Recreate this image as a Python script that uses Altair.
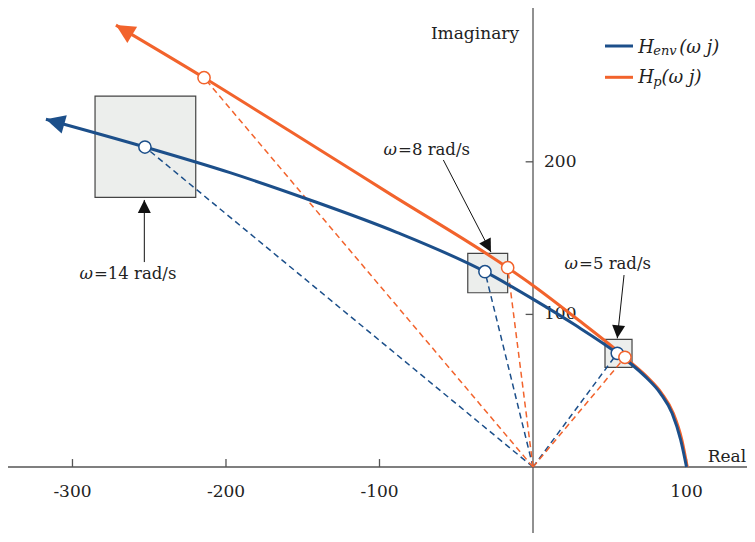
import altair as alt
import pandas as pd

# ---- data ----
env_re = [100.0, 96.2, 90.6, 83.0, 73.2, 63.3, 54.9, 27.5, 0.0, -31.3, -88.8, -145.3, -197.4, -252.8, -317.3]
env_im = [0.0, 17.7, 35.2, 48.3, 59.2, 68.0, 74.5, 93.0, 110.0, 128.0, 153.8, 175.0, 192.9, 209.7, 227.9]
p_re = [100.5, 97.0, 91.4, 83.8, 74.1, 64.3, 59.9, 30.0, 0.0, -16.5, -93.2, -159.0, -214.3, -271.7]
p_im = [0.0, 17.7, 35.2, 48.3, 59.2, 68.0, 71.9, 96.0, 119.0, 130.6, 179.0, 220.5, 255.1, 289.6]

omegas = [5, 8, 14]
env_pt_re = [54.9, -31.3, -252.8]
env_pt_im = [74.5, 128.0, 209.7]
p_pt_re = [59.9, -16.5, -214.3]
p_pt_im = [71.9, 130.6, 255.1]

box_re1 = [46.9, -42.5, -285.3]
box_re2 = [64.5, -16.5, -219.7]
box_im1 = [65.3, 114.2, 176.7]
box_im2 = [83.7, 140.0, 243.1]

ann_sym = ["ω", "ω", "ω"]
ann_text = ["=5 rad/s", "=8 rad/s", "=14 rad/s"]
ann_tip_re = [54.9, -27.4, -253.2]
ann_tip_im = [84.3, 140.9, 175.0]
ann_tail_re = [59.3, -58.4, -253.2]
ann_tail_im = [125.8, 201.2, 134.3]
ann_lab_re = [30.0, -87.9, -286.0]
ann_lab_im = [129.6, 204.5, 123.0]

x_ticks = [-300, -200, -100, 100]
y_ticks = [100, 200]

BLUE = "#1c4f8a"
ORANGE = "#f2632c"
AXC = "#555555"
FONT = "DejaVu Serif"
W, H = 739, 525

xs = alt.Scale(domain=[-342.0, 139.4], nice=False, zero=False)
ys = alt.Scale(domain=[(467 - 8 - H) / 1.526, 300.8], nice=False, zero=False)

env_df = pd.DataFrame({"re": env_re, "im": env_im})
p_df = pd.DataFrame({"re": p_re, "im": p_im})
env_pts = pd.DataFrame({"w": omegas, "re": env_pt_re, "im": env_pt_im, "z": 0.0})
p_pts = pd.DataFrame({"w": omegas, "re": p_pt_re, "im": p_pt_im, "z": 0.0})
boxes = pd.DataFrame({"x1": box_re1, "x2": box_re2, "y1": box_im1, "y2": box_im2})
ann = pd.DataFrame({"s": ann_sym, "t": ann_text, "tx": ann_tip_re, "ty": ann_tip_im,
                    "sx": ann_tail_re, "sy": ann_tail_im,
                    "lx": ann_lab_re, "ly": ann_lab_im,
                    "ang": [276, 242.6, 90]})
xt = pd.DataFrame({"v": x_ticks, "lab": [str(v) for v in x_ticks], "z": 0.0, "z2": 5.2})
yt = pd.DataFrame({"v": y_ticks, "lab": [str(v) for v in y_ticks], "z": 0.0, "z2": -4.8})
one = pd.DataFrame({"z": [0.0], "xr": [138.8], "yi": [280.3]})


def X(f):
    return alt.X(f, type="quantitative", scale=xs, axis=None)


def Y(f):
    return alt.Y(f, type="quantitative", scale=ys, axis=None)


HEAD = "M0,0 L1,-0.5 L1,0.5 Z"

# axes
xaxis = alt.Chart(one).mark_rule(color=AXC, strokeWidth=1.3).encode(
    x=alt.value(0), x2=alt.value(W), y=Y("z"))
yaxis = alt.Chart(one).mark_rule(color=AXC, strokeWidth=1.3).encode(
    x=X("z"), y=alt.value(0), y2=alt.value(H))
xtick = alt.Chart(xt).mark_rule(color=AXC, strokeWidth=1.3).encode(
    x=X("v"), y=Y("z"), y2="z2")
ytick = alt.Chart(yt).mark_rule(color=AXC, strokeWidth=1.3).encode(
    y=Y("v"), x=X("z"), x2="z2")
xlab = alt.Chart(xt).mark_text(font=FONT, fontSize=17, color="#222", baseline="middle", dy=25).encode(
    x=X("v"), y=Y("z"), text="lab:N")
ylab = alt.Chart(yt).mark_text(font=FONT, fontSize=17, color="#222", baseline="middle", align="left", dx=11).encode(
    y=Y("v"), x=X("z"), text="lab:N")
real_t = alt.Chart(one).mark_text(font=FONT, fontSize=17, color="#222", align="right", baseline="alphabetic", dy=-5, text="Real").encode(
    x=X("xr"), y=Y("z"))
imag_t = alt.Chart(one).mark_text(font=FONT, fontSize=17, color="#222", align="right", baseline="alphabetic", dx=-14, text="Imaginary").encode(
    x=X("z"), y=Y("yi"))

# boxes
box = alt.Chart(boxes).mark_rect(fill="#eceeec", stroke="#444444", strokeWidth=1.2).encode(
    x=X("x1"), x2="x2", y=Y("y1"), y2="y2")

# dashed radii
dash_env = alt.Chart(env_pts).mark_rule(color=BLUE, strokeWidth=1.5, strokeDash=[6, 4]).encode(
    x=X("z"), y=Y("z"), x2="re", y2="im")
dash_p = alt.Chart(p_pts).mark_rule(color=ORANGE, strokeWidth=1.5, strokeDash=[6, 4]).encode(
    x=X("z"), y=Y("z"), x2="re", y2="im")

# curves (sorted by x, monotone)
line_env = alt.Chart(env_df).mark_line(color=BLUE, strokeWidth=3, interpolate="monotone").encode(
    x=X("re"), y=Y("im"))
line_p = alt.Chart(p_df).mark_line(color=ORANGE, strokeWidth=3, interpolate="monotone").encode(
    x=X("re"), y=Y("im"))
head_env = alt.Chart(env_df.tail(1)).mark_point(shape=HEAD, size=1444, filled=True, color=BLUE, opacity=1, angle=15.7).encode(
    x=X("re"), y=Y("im"))
head_p = alt.Chart(p_df.tail(1)).mark_point(shape=HEAD, size=1444, filled=True, color=ORANGE, opacity=1, angle=30.9).encode(
    x=X("re"), y=Y("im"))

# circles
circ_env = alt.Chart(env_pts).mark_point(shape="circle", size=150, filled=True, fill="white", stroke=BLUE, strokeWidth=1.5, opacity=1).encode(
    x=X("re"), y=Y("im"))
circ_p = alt.Chart(p_pts).mark_point(shape="circle", size=150, filled=True, fill="white", stroke=ORANGE, strokeWidth=1.5, opacity=1).encode(
    x=X("re"), y=Y("im"))

# annotations
ann_line = alt.Chart(ann).mark_rule(color="#111", strokeWidth=1).encode(
    x=X("sx"), y=Y("sy"), x2="tx", y2="ty")
ann_head = alt.Chart(ann).mark_point(shape=HEAD, size=676, filled=True, color="#111", opacity=1).encode(
    x=X("tx"), y=Y("ty"), angle=alt.Angle("ang:Q", scale=None))
ann_sym_t = alt.Chart(ann).mark_text(font=FONT, fontSize=16.5, fontStyle="italic", color="#222", baseline="alphabetic", align="right", dx=-1).encode(
    x=X("lx"), y=Y("ly"), text="s:N")
ann_lab = alt.Chart(ann).mark_text(font=FONT, fontSize=16.5, color="#222", baseline="alphabetic", align="left").encode(
    x=X("lx"), y=Y("ly"), text="t:N")

# legend (manual)
legend_layers = []
for yy, cc in [(38, BLUE), (69.3, ORANGE)]:
    legend_layers.append(alt.Chart(one).mark_rule(strokeWidth=3, color=cc).encode(
        x=alt.value(597), x2=alt.value(625), y=alt.value(yy)))
for t, xx, yy, fs in [("H", 630.3, 44.7, 18), ("env", 645.3, 47.0, 13), ("(ω j)", 671.3, 44.7, 18),
                      ("H", 630.3, 75.3, 18), ("p", 645.3, 77.8, 13), ("(ω j)", 653.5, 75.3, 18)]:
    legend_layers.append(alt.Chart(one).mark_text(font=FONT, fontStyle="italic", color="#222", align="left",
                                                  baseline="alphabetic", fontSize=fs, text=t).encode(
        x=alt.value(xx), y=alt.value(yy)))

chart = alt.layer(
    xaxis, yaxis, xtick, ytick, xlab, ylab, real_t, imag_t,
    box, dash_env, dash_p, line_p, line_env, head_env, head_p, circ_env, circ_p,
    ann_line, ann_head, ann_sym_t, ann_lab, *legend_layers,
).properties(width=W, height=H, padding=0, autosize=alt.AutoSizeParams(type="none")
).configure_view(stroke=None)

chart.save("out.html", embed_options={"renderer": "svg", "actions": False})
